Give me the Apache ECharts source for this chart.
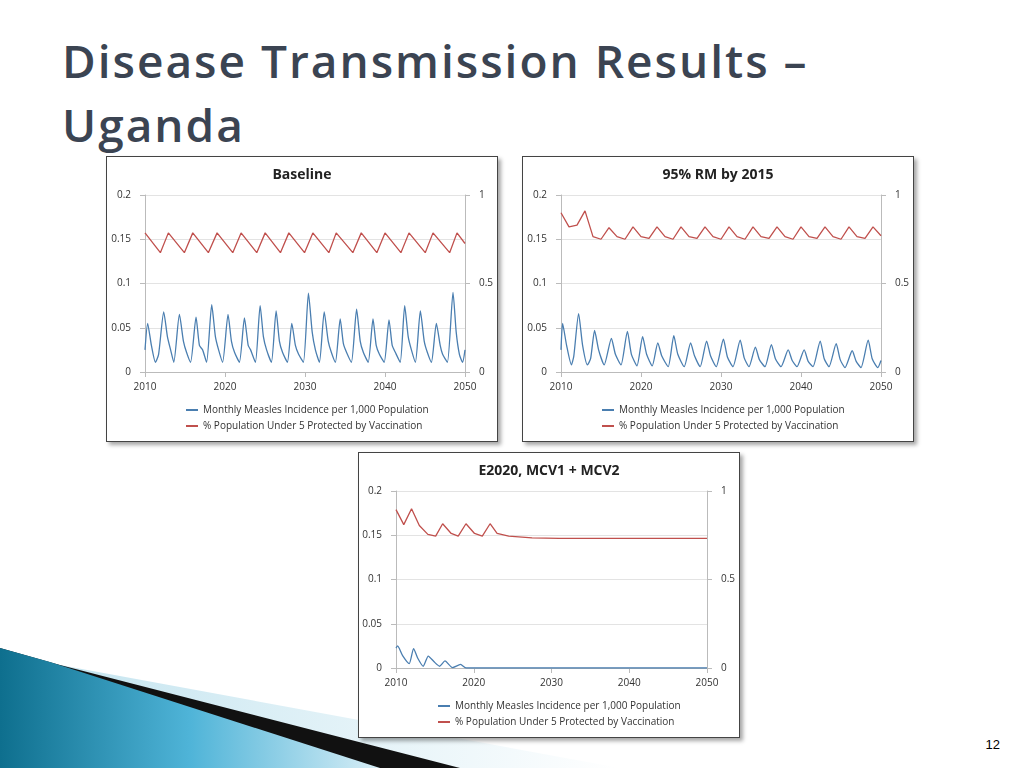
<!DOCTYPE html>
<html>
<head>
<meta charset="utf-8">
<title>Disease Transmission Results - Uganda</title>
<script src="https://cdn.jsdelivr.net/npm/echarts@6/dist/echarts.min.js"></script>
<style>
body { margin:0; width:1024px; height:768px; background:#fff; position:relative; overflow:hidden; font-family:"Open Sans", sans-serif; }
.title { position:absolute; left:62px; top:28px; font-size:46px; line-height:64px; color:#3b4452; letter-spacing:2px; font-family:"Open Sans", sans-serif; font-weight:600; }
.panel { position:absolute; border:1px solid #444; background:#fff; box-shadow:3px 3px 4px rgba(0,0,0,0.35); }
#pg { position:absolute; right:24px; top:737px; font-size:13px; font-family:"Liberation Sans",sans-serif; }
</style>
</head>
<body>
<svg width="1024" height="768" style="position:absolute;left:0;top:0">
  <defs>
    <linearGradient id="g1" x1="0" y1="0" x2="1" y2="0">
      <stop offset="0" stop-color="#0e6f8e"/><stop offset="0.5" stop-color="#4fb4d8"/><stop offset="1" stop-color="#d8eef6"/>
    </linearGradient>
    <linearGradient id="g2" x1="0" y1="0" x2="1" y2="0">
      <stop offset="0" stop-color="#bfe2ee"/><stop offset="1" stop-color="#ffffff"/>
    </linearGradient>
  </defs>
  <polygon points="0,655 60,665 620,768 0,768" fill="url(#g2)"/>
  <polygon points="0,648 60,665 460,768 0,768" fill="#111"/>
  <polygon points="0,648 50,662 380,768 0,768" fill="url(#g1)"/>
</svg>
<div class="title">Disease Transmission Results –<br>Uganda</div>
<div class="panel" id="c1" style="left:106px;top:156px;width:390px;height:284px"></div>
<div class="panel" id="c2" style="left:522px;top:156px;width:390px;height:284px"></div>
<div class="panel" id="c3" style="left:358px;top:452px;width:380px;height:284px"></div>
<div id="pg">12</div>
<script>
var legendNames = ['Monthly Measles Incidence per 1,000 Population', '% Population Under 5 Protected by Vaccination'];

var baseIncidence = [[2010,0.025],[2010.33,0.055],[2010.8,0.03],[2011.3,0.011],[2011.7,0.02],[2012.34,0.068],[2012.8,0.04],[2013.2,0.025],[2013.6,0.011],[2014.3,0.065],[2014.8,0.035],[2015.2,0.022],[2015.7,0.011],[2016.38,0.062],[2016.8,0.03],[2017.2,0.025],[2017.7,0.011],[2018.34,0.076],[2018.8,0.04],[2019.2,0.025],[2019.7,0.011],[2020.38,0.065],[2020.8,0.035],[2021.2,0.022],[2021.8,0.011],[2022.43,0.061],[2022.9,0.03],[2023.2,0.025],[2023.8,0.011],[2024.39,0.075],[2024.8,0.04],[2025.2,0.025],[2025.8,0.011],[2026.39,0.069],[2026.8,0.035],[2027.2,0.022],[2027.8,0.011],[2028.35,0.055],[2028.8,0.03],[2029.2,0.02],[2029.8,0.011],[2030.43,0.089],[2030.9,0.045],[2031.3,0.025],[2031.8,0.011],[2032.4,0.068],[2032.9,0.035],[2033.3,0.022],[2033.8,0.011],[2034.4,0.06],[2034.8,0.032],[2035.2,0.022],[2035.8,0.011],[2036.45,0.071],[2036.9,0.035],[2037.3,0.022],[2037.9,0.011],[2038.5,0.06],[2038.9,0.03],[2039.3,0.02],[2039.9,0.011],[2040.5,0.059],[2040.9,0.03],[2041.3,0.022],[2041.9,0.011],[2042.46,0.075],[2042.9,0.04],[2043.3,0.025],[2043.8,0.011],[2044.42,0.069],[2044.9,0.035],[2045.3,0.022],[2045.8,0.011],[2046.42,0.055],[2046.9,0.03],[2047.2,0.02],[2047.8,0.011],[2048.5,0.09],[2048.9,0.045],[2049.3,0.02],[2049.7,0.011],[2050,0.025]];
var baseProtected = [[2010,0.786],[2011.92,0.674],[2012.92,0.786],[2014.92,0.674],[2015.97,0.786],[2017.92,0.674],[2019.01,0.786],[2020.97,0.674],[2022.01,0.786],[2023.97,0.674],[2025.02,0.786],[2026.93,0.674],[2027.98,0.786],[2029.94,0.674],[2030.98,0.786],[2032.98,0.674],[2033.9,0.786],[2035.98,0.674],[2037.03,0.786],[2038.98,0.674],[2040.0,0.786],[2041.99,0.674],[2043.0,0.786],[2045.03,0.674],[2046.0,0.786],[2048.08,0.674],[2049.0,0.786],[2050,0.726]];

var rmIncidence = [[2010,0.025],[2010.2,0.055],[2010.7,0.03],[2011.3,0.008],[2011.6,0.018],[2012.2,0.066],[2012.7,0.03],[2013.3,0.008],[2013.7,0.015],[2014.2,0.047],[2014.7,0.025],[2015.4,0.008],[2016.3,0.038],[2016.8,0.02],[2017.5,0.008],[2018.3,0.046],[2018.8,0.02],[2019.5,0.007],[2020.2,0.04],[2020.7,0.02],[2021.4,0.007],[2022.1,0.033],[2022.6,0.018],[2023.4,0.006],[2024.1,0.041],[2024.6,0.02],[2025.4,0.006],[2026.2,0.033],[2026.7,0.018],[2027.4,0.006],[2028.2,0.035],[2028.7,0.018],[2029.4,0.006],[2030.3,0.037],[2030.8,0.017],[2031.5,0.006],[2032.4,0.036],[2032.9,0.016],[2033.5,0.006],[2034.3,0.028],[2034.8,0.014],[2035.5,0.006],[2036.3,0.031],[2036.8,0.015],[2037.5,0.006],[2038.4,0.025],[2038.9,0.013],[2039.5,0.006],[2040.4,0.025],[2040.9,0.012],[2041.5,0.006],[2042.4,0.035],[2042.9,0.015],[2043.5,0.006],[2044.4,0.032],[2044.9,0.014],[2045.5,0.005],[2046.4,0.024],[2046.9,0.012],[2047.5,0.005],[2048.4,0.036],[2048.9,0.015],[2049.6,0.005],[2050,0.013]];
var rmProtected = [[2010,0.9],[2011,0.82],[2012,0.83],[2013,0.91],[2014,0.765],[2015,0.75],[2016,0.815],[2017,0.765],[2018,0.75],[2019,0.82],[2020,0.765],[2021,0.755],[2022,0.82],[2023,0.765],[2024,0.75],[2025,0.82],[2026,0.765],[2027,0.755],[2028,0.82],[2029,0.765],[2030,0.75],[2031,0.82],[2032,0.765],[2033,0.75],[2034,0.82],[2035,0.765],[2036,0.755],[2037,0.82],[2038,0.765],[2039,0.75],[2040,0.82],[2041,0.765],[2042,0.755],[2043,0.82],[2044,0.765],[2045,0.75],[2046,0.82],[2047,0.765],[2048,0.755],[2049,0.82],[2050,0.77]];

var e2020Incidence = [[2010,0.0225],[2010.2,0.025],[2010.43,0.022],[2010.85,0.014],[2011.7,0.005],[2012.26,0.022],[2012.8,0.011],[2013.5,0.002],[2014.15,0.0135],[2014.9,0.007],[2015.6,0.002],[2016.3,0.008],[2017.26,0.0005],[2018.3,0.004],[2019.03,0],[2050,0]];
var e2020Protected = [[2010,0.895],[2011,0.81],[2012,0.9],[2013,0.805],[2014.1,0.755],[2015.1,0.745],[2016,0.815],[2017.1,0.76],[2018,0.745],[2019,0.815],[2020.1,0.76],[2021.1,0.745],[2022.1,0.815],[2023,0.76],[2024.5,0.745],[2027.5,0.735],[2031,0.732],[2050,0.732]];

var xTicks = [2010, 2020, 2030, 2040, 2050];
var leftTicks = [0, 0.05, 0.1, 0.15, 0.2];

function makeChart(id, title, inc, prot, leftPad) {
  var chart = echarts.init(document.getElementById(id));
  var lab = { color:'#333', fontSize:10, fontFamily:'Open Sans' };
  chart.setOption({
    animation:false,
    title:{ text:title, left:'center', top:6, textStyle:{ fontSize:14, fontWeight:'bold', color:'#222', fontFamily:'Open Sans' } },
    grid:{ left:leftPad, right:32, top:38, bottom:69 },
    legend:{ data:legendNames, orient:'vertical', left:74, bottom:5, itemGap:6, itemWidth:12, itemHeight:2, icon:'rect',
             textStyle:{ fontSize:10, color:'#333', fontFamily:'Open Sans' } },
    xAxis:{ type:'value', min:xTicks[0], max:xTicks[xTicks.length-1], interval:10,
            axisLine:{ lineStyle:{ color:'#bbb' } }, axisTick:{ show:true, lineStyle:{ color:'#bbb' } },
            splitLine:{ show:false }, axisLabel:Object.assign({ margin:10, formatter:function (v) { return String(v); } }, lab) },
    yAxis:[
      { type:'value', min:0, max:leftTicks[leftTicks.length-1], interval:0.05, axisLine:{ show:true, lineStyle:{ color:'#bbb' } },
        axisTick:{ show:true, lineStyle:{ color:'#bbb' } }, splitLine:{ lineStyle:{ color:'#e3e3e3' } }, axisLabel:Object.assign({ margin:14 }, lab) },
      { type:'value', min:0, max:1, interval:0.5, axisLine:{ show:true, lineStyle:{ color:'#bbb' } },
        axisTick:{ show:true, lineStyle:{ color:'#bbb' } }, splitLine:{ show:false }, axisLabel:Object.assign({ margin:14 }, lab) }
    ],
    series:[
      { name:legendNames[0], type:'line', data:inc, yAxisIndex:0, showSymbol:false, smooth:0.2,
        lineStyle:{ color:'#4a7eb0', width:1.3 }, itemStyle:{ color:'#4a7eb0' } },
      { name:legendNames[1], type:'line', data:prot, yAxisIndex:1, showSymbol:false,
        lineStyle:{ color:'#c0504d', width:1.3 }, itemStyle:{ color:'#c0504d' } }
    ]
  });
}

makeChart('c1', 'Baseline', baseIncidence, baseProtected, 38);
makeChart('c2', '95% RM by 2015', rmIncidence, rmProtected, 38);
makeChart('c3', 'E2020, MCV1 + MCV2', e2020Incidence, e2020Protected, 37);
</script>
</body>
</html>
